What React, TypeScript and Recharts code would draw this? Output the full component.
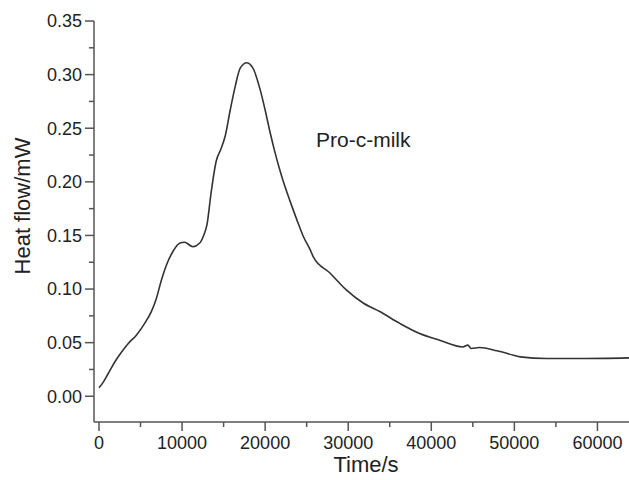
import { LineChart, Line, XAxis, YAxis } from 'recharts'

const timeS = [
  0, 500, 1100, 1900, 2700, 3500, 4500, 5500, 6300, 6900, 7500, 8100, 8900, 9700, 10300, 11300, 12100,
  12600, 13000, 13500, 14100, 14700, 15200, 15800, 16400, 17000, 17800, 18600, 19400, 20000, 20600,
  21200, 22000, 23000, 23800, 24600, 25400, 25800, 27800, 29800, 31800, 33800, 36200, 38600, 41000,
  43800, 44400, 44800, 45800, 47900, 49900, 50700, 53900, 57900, 63800,
]
const heatFlow = [
  0.008, 0.013, 0.021, 0.032, 0.041, 0.049, 0.057, 0.068, 0.079, 0.091, 0.108, 0.122, 0.135, 0.1427,
  0.1436, 0.1395, 0.1427, 0.15, 0.16, 0.19, 0.219, 0.231, 0.243, 0.267, 0.289, 0.306, 0.311, 0.305,
  0.286, 0.267, 0.246, 0.227, 0.205, 0.182, 0.165, 0.149, 0.137, 0.13, 0.115, 0.099, 0.087, 0.079,
  0.068, 0.0585, 0.0523, 0.046, 0.0477, 0.0446, 0.0455, 0.0424, 0.0383, 0.0367, 0.0352, 0.0352, 0.0358,
]
const xTicks = [0, 5000, 10000, 15000, 20000, 25000, 30000, 35000, 40000, 45000, 50000, 55000, 60000]
const yTicks = [0, 0.025, 0.05, 0.075, 0.1, 0.125, 0.15, 0.175, 0.2, 0.225, 0.25, 0.275, 0.3, 0.325, 0.35]

const data = timeS.map((t, i) => ({ t, q: heatFlow[i] }))

const font = '"Liberation Sans", Arial, sans-serif'
const axisColor = '#555'

const XTick = (props: any) => {
  const { x, y, payload } = props
  const major = payload.value % 10000 === 0
  return (
    <g>
      <line x1={x} x2={x} y1={y} y2={y + (major ? 9 : 5)} stroke={axisColor} strokeWidth={1.5} />
      {major && (
        <text x={x} y={y + 21} dy="0.35em" textAnchor="middle" fontSize={18} fill="#222" fontFamily={font}>
          {payload.value}
        </text>
      )}
    </g>
  )
}

const YTick = (props: any) => {
  const { x, y, payload } = props
  const major = Math.round(payload.value * 1000) % 50 === 0
  return (
    <g>
      <line x1={x} x2={x - (major ? 9 : 5)} y1={y} y2={y} stroke={axisColor} strokeWidth={1.5} />
      {major && (
        <text x={x - 12} y={y} dy="0.35em" textAnchor="end" fontSize={18} fill="#222" fontFamily={font}>
          {payload.value.toFixed(2)}
        </text>
      )}
    </g>
  )
}

export default function App() {
  return (
    <div style={{ position: 'absolute', left: 0, top: 0, width: 629, height: 480, background: '#fff' }}>
      <LineChart width={629} height={480} data={data} margin={{ top: 21, right: 0, left: 0, bottom: 0 }}>
        <XAxis
          dataKey="t"
          type="number"
          domain={[-600, 63800]}
          ticks={xTicks}
          interval={0}
          tick={<XTick />}
          tickLine={false}
          tickSize={0}
          tickMargin={0}
          height={58}
          axisLine={{ stroke: axisColor, strokeWidth: 1.5 }}
          allowDataOverflow
        />
        <YAxis
          type="number"
          domain={[-0.024, 0.35]}
          ticks={yTicks}
          interval={0}
          tick={<YTick />}
          tickLine={false}
          tickSize={0}
          tickMargin={0}
          width={94}
          axisLine={{ stroke: axisColor, strokeWidth: 1.5 }}
          allowDataOverflow
        />
        <Line
          type="monotone"
          dataKey="q"
          stroke="#333"
          strokeWidth={1.6}
          dot={false}
          isAnimationActive={false}
        />
      </LineChart>
      <div
        style={{
          position: 'absolute', left: 23, top: 206, transform: 'translate(-50%, -50%) rotate(-90deg)',
          fontFamily: font, fontSize: 22, color: '#222', whiteSpace: 'nowrap',
        }}
      >
        Heat flow/mW
      </div>
      <div
        style={{
          position: 'absolute', left: 366, top: 465, transform: 'translate(-50%, -50%)',
          fontFamily: font, fontSize: 22, color: '#222', whiteSpace: 'nowrap',
        }}
      >
        Time/s
      </div>
      <div
        style={{
          position: 'absolute', left: 316, top: 128, fontFamily: font, fontSize: 21, color: '#222',
          whiteSpace: 'nowrap', lineHeight: '24px',
        }}
      >
        Pro-c-milk
      </div>
    </div>
  )
}
